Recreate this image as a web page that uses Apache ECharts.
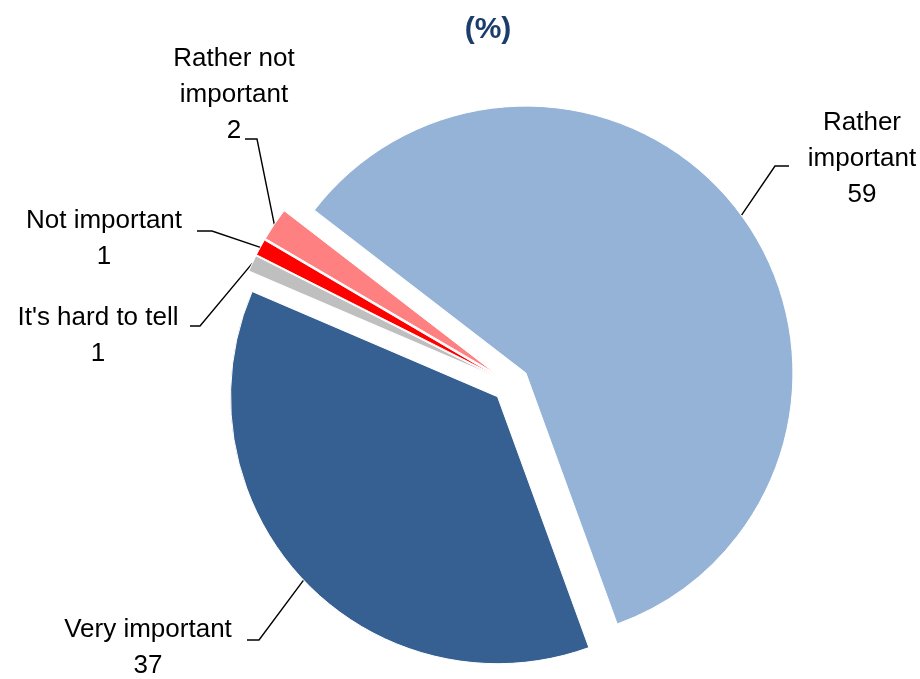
<!DOCTYPE html>
<html>
<head>
<meta charset="utf-8">
<script src="https://cdn.jsdelivr.net/npm/echarts@6/dist/echarts.min.js"></script>
<style>
  html, body { margin: 0; padding: 0; background: #fff; }
  #main { width: 920px; height: 679px; }
</style>
</head>
<body>
<div id="main"></div>
<script>
// answers and shares, %
var categories = ['Rather\nimportant', 'Very important', "It's hard to tell", 'Not important', 'Rather not\nimportant'];
var values = [59, 37, 1, 1, 2];
var colors = ['#95B3D7', '#376092', '#BFBFBF', '#FF0000', '#FF8080'];

// where each label sits (centre) and where its leader line meets it
var spots = [
	{ x: 862, y: 159, ex: 789, ey: 166, bx: 775 },
	{ x: 148, y: 648, ex: 247, ey: 640, bx: 259 },
	{ x: 98, y: 336, ex: 190, ey: 326, bx: 200 },
	{ x: 104, y: 239, ex: 197, ey: 231, bx: 212 },
	{ x: 234, y: 95, ex: 245, ey: 139, bx: 257 }
];
var explode = 18.5;

var myChart = echarts.init(document.getElementById('main'));

var pieData = [];
for (var i = 0; i < values.length; i++) {
	pieData.push({
		name: categories[i],
		value: values[i],
		selected: true,
		itemStyle: { color: colors[i] },
		select: { itemStyle: { color: colors[i], borderColor: '#fff', borderWidth: 1 } }
	});
}

option = {
	animation: false,
	title: {
		text: '(%)',
		left: 483,
		top: 10,
		textAlign: 'center',
		textStyle: {
			fontFamily: 'Liberation Sans, Arial, sans-serif',
			fontSize: 30,
			fontWeight: 'bold',
			color: '#1B3D6B'
		}
	},
	series: [{
		type: 'pie',
		center: [511, 384],
		radius: 267,
		startAngle: 142.4,
		clockwise: true,
		selectedMode: 'multiple',
		selectedOffset: explode,
		avoidLabelOverlap: false,
		itemStyle: { borderColor: '#fff', borderWidth: 1 },
		emphasis: { disabled: true },
		label: {
			show: true,
			position: 'outside',
			formatter: '{b}\n{c}',
			fontFamily: 'Liberation Sans, Arial, sans-serif',
			fontSize: 26,
			lineHeight: 36,
			color: '#000'
		},
		labelLine: {
			show: true,
			length: 10,
			length2: 10,
			lineStyle: { color: '#000', width: 1.4 }
		},
		labelLayout: function (params) {
			var s = spots[params.dataIndex];
			var pts = params.labelLinePoints;
			var r = params.labelRect;
			// label and line move with the exploded slice, so take that shift back out
			var vx = pts[1][0] - pts[0][0], vy = pts[1][1] - pts[0][1];
			var len = Math.sqrt(vx * vx + vy * vy) || 1;
			var ox = vx / len * explode, oy = vy / len * explode;
			var ax = params.align === 'right' ? r.x + r.width : (params.align === 'center' ? r.x + r.width / 2 : r.x);
			var ay = r.y + r.height / 2;
			return {
				dx: s.x - ax - ox,
				dy: s.y - ay - oy,
				align: 'center',
				verticalAlign: 'middle',
				labelLinePoints: [pts[0], [s.bx - ox, s.ey - oy], [s.ex - ox, s.ey - oy]]
			};
		},
		data: pieData
	}]
};

myChart.setOption(option);
</script>
</body>
</html>
